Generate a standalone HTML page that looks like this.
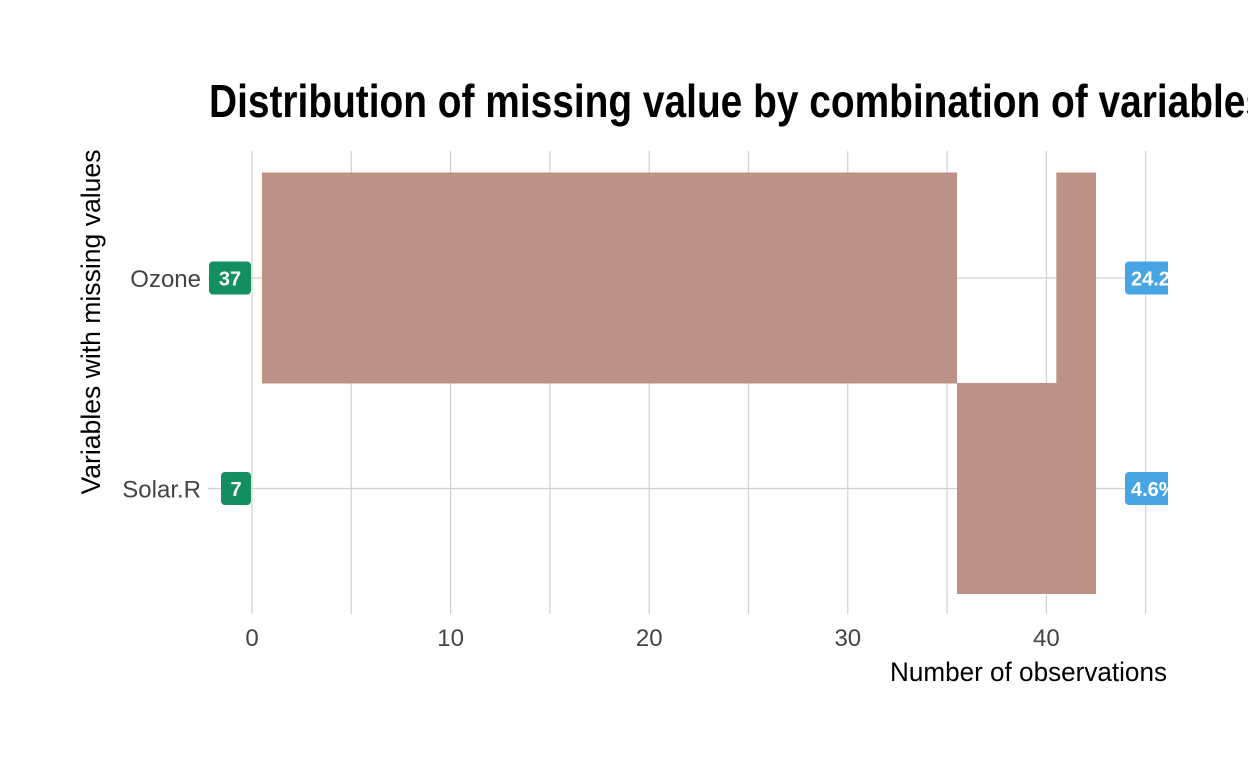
<!DOCTYPE html>
<html><head><meta charset="utf-8"><style>
html,body{margin:0;padding:0;background:#fff;}
svg{display:block;font-family:"Liberation Sans Narrow","Liberation Sans",sans-serif;}
</style></head><body>
<svg id="chart" width="1248" height="768" viewBox="0 0 1248 768">
<defs><clipPath id="panel"><rect x="150" y="140" width="1018" height="480"/></clipPath></defs>
<text x="209" y="117" font-size="46" font-weight="bold" fill="#000" textLength="1058" lengthAdjust="spacingAndGlyphs">Distribution of missing value by combination of variables</text>
<g id="grid"></g>
<g id="bars" clip-path="url(#panel)"></g>
<g id="labels" clip-path="url(#panel)"></g>
<g id="axes"></g>
<text x="1167" y="681" font-size="27" text-anchor="end" fill="#000" textLength="277" lengthAdjust="spacingAndGlyphs">Number of observations</text>
<text transform="translate(100,322) rotate(-90)" font-size="27" text-anchor="middle" fill="#000" textLength="345" lengthAdjust="spacingAndGlyphs">Variables with missing values</text>
</svg>
<script>
const categories = ['Ozone', 'Solar.R'];
const countLabels = ['37', '7'];
const pctLabels = ['24.2%', '4.6%'];
const segVar = ['Ozone', 'Ozone', 'Solar.R'];
const segStart = [0.5, 40.5, 35.5];
const segEnd = [35.5, 42.5, 42.5];
const xTicks = [0, 10, 20, 30, 40];
const xMinor = [5, 15, 25, 35, 45];

const NS = 'http://www.w3.org/2000/svg';
function x(v){ return 252 + v * 19.86; }
function yc(c){ return 278 + categories.indexOf(c) * 210.5; }
const half = 105.5;
function mk(tag, attrs, parent){ const e = document.createElementNS(NS, tag); for (const k in attrs) e.setAttribute(k, attrs[k]); parent.appendChild(e); return e; }

const grid = document.getElementById('grid');
xTicks.concat(xMinor).forEach(v => {
  const l = mk('line', {x1:x(v), x2:x(v), y1:151, y2:614, stroke:'#d0d0d0', 'stroke-width':1.2}, grid);
  
  
});
categories.forEach(c => {
  const l = mk('line', {x1:208, x2:1168, y1:yc(c), y2:yc(c), stroke:'#d0d0d0', 'stroke-width':1.2}, grid);
  
  
});

const bars = document.getElementById('bars');
segVar.forEach((c, i) => {
  const r = mk('rect', {x:x(segStart[i]), y:yc(c)-half, width:x(segEnd[i])-x(segStart[i]), height:2*half, fill:'#bd9185'}, bars);
  
  
});

const labels = document.getElementById('labels');
categories.forEach((c, i) => {
  const w = countLabels[i].length * 12 + 18;
  const g = mk('g', {}, labels);
  
  
  mk('rect', {x:251-w, y:yc(c)-16.5, width:w, height:33, rx:4, fill:'#148f5f'}, g);
  const t = mk('text', {x:251-w/2, y:yc(c)+7.5, 'font-size':20, 'font-weight':'bold', fill:'#fff', 'text-anchor':'middle'}, g);
  t.textContent = countLabels[i];
  const g2 = mk('g', {}, labels);
  
  
  mk('rect', {x:1125, y:yc(c)-16.5, width:pctLabels[i].length*12+14, height:33, rx:4, fill:'#48a5e3'}, g2);
  const t2 = mk('text', {x:1131, y:yc(c)+7.5, 'font-size':20, 'font-weight':'bold', fill:'#fff'}, g2);
  t2.textContent = pctLabels[i];
});

const axes = document.getElementById('axes');
xTicks.forEach(v => {
  const t = mk('text', {x:x(v), y:646, 'font-size':24, fill:'#444', 'text-anchor':'middle'}, axes);
  t.textContent = String(v);
  
  
});
categories.forEach(c => {
  const t = mk('text', {x:201, y:yc(c)+9, 'font-size':24, fill:'#444', 'text-anchor':'end'}, axes);
  t.textContent = c;
  
  
});
</script>
</body></html>
